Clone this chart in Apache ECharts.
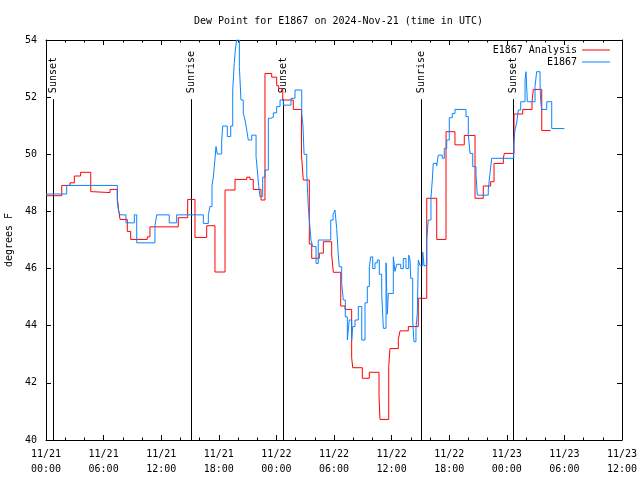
<!DOCTYPE html>
<html>
<head>
<meta charset="utf-8">
<script src="https://cdn.jsdelivr.net/npm/echarts@6/dist/echarts.min.js"></script>
<style>html,body{margin:0;padding:0;background:#fff;}#c{width:640px;height:480px;}</style>
</head>
<body>
<div id="c"></div>
<script>
// Hours since 2024-11-21 00:00 UTC
const redHours = [0,1.64,2.5,2.95,3.61,4.66,4.93,6.67,7.43,7.57,7.71,8.47,8.82,10.55,10.83,13.78,14.76,15.52,16.74,17.6,18.65,19.69,20.91,21.25,21.59,22.4,22.81,23.51,24.03,24.24,24.66,25.76,26.61,26.8,27.43,27.68,28.47,28.89,29.76,29.93,30.7,31.15,31.84,31.95,32.95,33.68,34.69,34.79,35.7,35.83,36.7,36.88,37.74,38.78,39.66,40.7,41.67,42.6,43.57,44.69,45.55,46.32,46.67,47.64,47.74,48.75,49.66,50.63,50.76,51.64,52.57];
const redValues = [48.55,48.91,49.0,49.24,49.37,48.69,48.66,48.77,48.46,48.05,47.72,47.3,47.02,47.11,47.46,47.78,48.42,47.09,47.5,45.88,48.75,49.12,49.2,49.12,48.77,48.4,52.83,52.7,52.4,52.3,51.9,51.57,50.0,49.1,46.86,46.36,46.54,46.94,46.47,45.87,44.69,44.57,42.88,42.53,42.16,42.37,41.54,40.72,42.57,43.2,43.52,43.82,43.97,44.96,48.46,47.02,50.79,50.33,50.66,48.46,48.89,49.04,49.68,49.86,50.03,51.41,51.57,51.84,52.27,50.83,50.83];
const blueHours = [0,2.16,7.43,7.57,7.71,8.33,9.2,9.45,11.35,11.53,12.84,13.61,16.39,16.91,17.08,17.29,17.43,17.53,17.71,17.84,18.3,18.41,18.89,19.24,19.45,19.61,19.72,19.86,20.14,20.31,20.55,20.73,20.91,21.07,21.43,21.88,22.01,22.16,22.29,22.57,22.81,23.16,23.41,23.68,24.03,24.38,24.72,25.52,25.94,26.64,26.77,26.88,27.16,27.32,27.5,27.6,27.78,28.13,28.36,29.66,29.9,30.1,30.28,30.45,30.55,30.8,30.97,31.18,31.39,31.59,31.84,31.95,32.19,32.53,32.89,33.23,33.47,33.68,33.82,34.03,34.27,34.51,34.72,34.97,35.14,35.42,35.55,35.66,36.18,36.35,36.53,36.95,37.22,37.5,37.78,37.92,37.99,38.2,38.33,38.54,38.68,38.78,38.96,39.24,39.38,39.66,39.82,40.1,40.24,40.34,40.7,40.86,41.28,41.49,41.74,42.01,42.32,42.6,43.75,43.99,44.17,44.45,44.79,44.93,46.07,46.25,46.43,48.72,48.85,49.03,49.2,49.45,49.9,50.0,50.14,50.94,51.11,51.46,51.53,51.64,52.16,52.68,54.0];
const blueValues = [48.61,48.91,48.3,48.0,47.88,47.6,47.88,46.9,47.5,47.88,47.6,47.88,47.58,47.88,48.17,48.9,49.2,49.56,50.27,50.01,50.5,50.99,50.62,50.99,52.25,53.18,53.65,54.0,53.07,51.9,51.43,51.2,50.85,50.5,50.67,49.92,49.45,48.87,48.52,49.2,49.45,51.26,51.3,51.45,51.67,51.9,51.72,51.96,52.25,51.43,50.99,50.0,49.33,48.17,47.41,47.0,46.77,46.18,47.0,47.7,47.9,48.05,47.4,46.47,46.06,45.48,44.9,44.31,43.5,44.2,43.5,43.97,44.2,44.67,43.5,44.8,45.37,46.06,46.41,46.0,46.2,46.3,45.8,45.13,43.91,46.2,44.4,45.13,46.41,45.9,46.15,46.0,46.35,46.0,46.47,46.3,45.66,44.14,43.44,43.9,44.43,46.3,46.1,46.58,46.1,47.0,47.7,48.46,49.1,49.68,49.6,49.97,49.86,50.21,50.5,51.28,51.43,51.57,51.32,50.7,50.03,49.57,49.3,48.57,48.75,49.33,49.86,50.38,50.85,51.1,51.55,51.84,52.6,52.89,51.84,52.37,52.89,52.48,51.84,51.57,51.84,50.9,50.9];
const sunHours = [0.76, 15.07, 24.72, 39.03, 48.68];
const sunLabels = ['Sunset', 'Sunrise', 'Sunset', 'Sunrise', 'Sunset'];
const sunLineTop = 51.93;
const seriesNames = ['E1867 Analysis', 'E1867'];
const titleText = 'Dew Point for E1867 on 2024-Nov-21 (time in UTC)';
const yName = 'degrees F';

const FONT = 'DejaVu Sans Mono';
function pair(h, v) { return h.map((x, i) => [x, v[i]]); }
function fmtX(val) {
  const day = 21 + Math.floor(val / 24);
  const hr = Math.round(val % 24);
  return '11/' + day + '\n' + String(hr).padStart(2, '0') + ':00';
}
const xCommon = {
  type: 'value', min: 0, max: 60, interval: 6,
  axisLine: { show: true, onZero: false, lineStyle: { color: '#000', width: 1 } },
  axisTick: { show: true, inside: true, length: 5, lineStyle: { color: '#000' } },
  minorTick: { show: true, splitNumber: 3, length: 2.5, lineStyle: { color: '#000' } },
  splitLine: { show: false }
};
const yCommon = {
  type: 'value', min: 40, max: 54, interval: 2,
  axisLine: { show: true, onZero: false, lineStyle: { color: '#000', width: 1 } },
  axisTick: { show: true, inside: true, length: 5, lineStyle: { color: '#000' } },
  splitLine: { show: false }
};
const chart = echarts.init(document.getElementById('c'), null, { renderer: 'canvas' });
chart.setOption({
  animation: false,
  backgroundColor: '#fff',
  textStyle: { fontFamily: FONT },
  title: { text: titleText, left: 189, top: 11,
    textStyle: { fontFamily: FONT, fontSize: 10, fontWeight: 'normal', color: '#000' } },
  grid: { left: 46, right: 18, top: 40, bottom: 40, containLabel: false, outerBoundsMode: 'none' },
  legend: {
    orient: 'vertical', right: 30, top: 45, align: 'right', padding: 0, itemGap: 2,
    itemWidth: 28, itemHeight: 1, icon: 'rect',
    data: seriesNames,
    formatter: n => '{a|' + n + '}',
    textStyle: { fontFamily: FONT, fontSize: 10, color: '#000',
      rich: { a: { width: 88, align: 'right', fontFamily: FONT, fontSize: 10, color: '#000' } } }
  },
  xAxis: [
    Object.assign({}, xCommon, { position: 'bottom',
      axisLabel: { show: true, margin: 7, color: '#000', fontFamily: FONT, fontSize: 10, lineHeight: 15, formatter: fmtX } }),
    Object.assign({}, xCommon, { position: 'top', axisLabel: { show: false } })
  ],
  yAxis: [
    Object.assign({}, yCommon, { position: 'left', name: yName, nameLocation: 'middle', nameGap: 31,
      nameTextStyle: { fontFamily: FONT, fontSize: 10, color: '#000' },
      axisLabel: { show: true, margin: 9, color: '#000', fontFamily: FONT, fontSize: 10 } }),
    Object.assign({}, yCommon, { position: 'right', axisLabel: { show: false } })
  ],
  series: [
    { name: seriesNames[0], type: 'line', step: 'end', showSymbol: false, data: pair(redHours, redValues),
      lineStyle: { color: '#ff0000', width: 1 }, itemStyle: { color: '#ff0000' } },
    { name: seriesNames[1], type: 'line', step: 'end', showSymbol: false, data: pair(blueHours, blueValues),
      lineStyle: { color: '#0a84ff', width: 1 }, itemStyle: { color: '#0a84ff' } },
    { name: 'sun', type: 'custom', clip: false, silent: true,
      data: sunHours.map(h => [h, 40]),
      encode: { x: 0, y: 1 },
      renderItem: function (params, api) {
        const h = api.value(0);
        const p0 = api.coord([h, 40]);
        const p1 = api.coord([h, sunLineTop]);
        const x = Math.round(p0[0]) + 0.5;
        return { type: 'group', children: [
          { type: 'line', shape: { x1: x, y1: p1[1], x2: x, y2: p0[1] }, style: { stroke: '#000', lineWidth: 1 } },
          { type: 'text', x: x, y: p1[1] - 6, rotation: Math.PI / 2,
            style: { text: sunLabels[params.dataIndex], x: 0, y: 0, align: 'left', verticalAlign: 'middle',
              fill: '#000', font: '10px "DejaVu Sans Mono"' } }
        ] };
      } }
  ]
});
</script>
</body>
</html>
